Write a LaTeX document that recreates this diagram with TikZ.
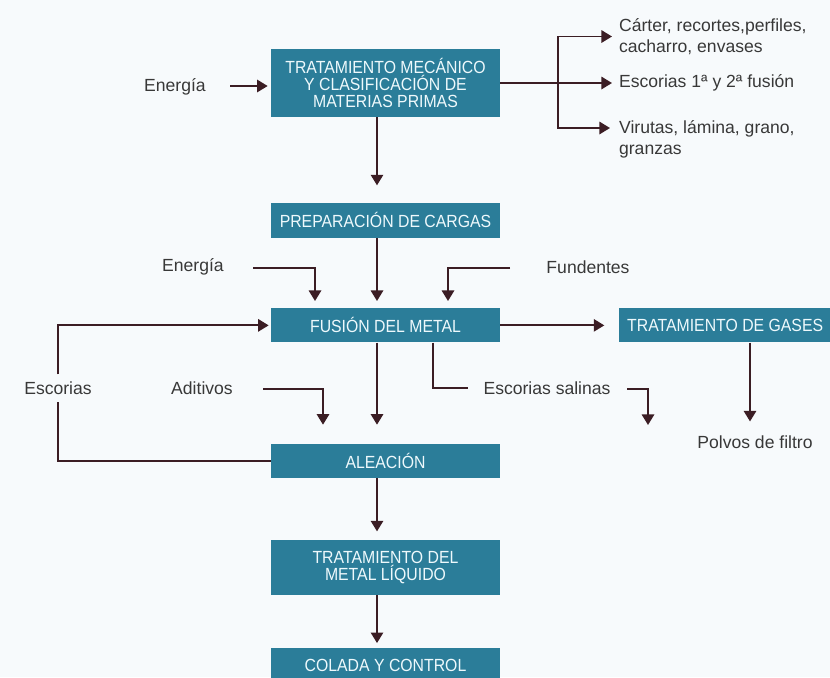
\documentclass[tikz,border=0pt]{standalone}
\usepackage{fontspec}
\setmainfont{Liberation Sans}
\newfontfamily\boxfont[FakeStretch=0.9]{Liberation Sans}
\usetikzlibrary{positioning,calc,arrows.meta}
\definecolor{boxteal}{HTML}{2B7D99}
\definecolor{boxtext}{HTML}{EEF9FC}
\definecolor{arrowred}{HTML}{3B1D24}
\definecolor{labeltext}{HTML}{383838}
\definecolor{paper}{HTML}{F7FAFC}

\begin{document}
\begin{tikzpicture}[x=0.02cm, y=-0.02cm,
		procbox/.style={rectangle, fill=boxteal, text=boxtext, font=\boxfont\fontsize{10}{9.8}\selectfont, align=center, minimum width=4.58cm, minimum height=0.68cm, inner sep=0pt},
		label/.style={rectangle, text=labeltext, font=\fontsize{10}{12}\selectfont, align=left, inner sep=1pt},
		line/.style={draw=arrowred, line width=1.1pt},
		flow/.style={line, -{Triangle[width=7pt,length=6pt]}}
	]
	\fill[paper] (0,0) rectangle (830,677);
	\useasboundingbox (0,0) rectangle (830,677);
	% main column
	\node[procbox, minimum height=1.36cm] (mecanico) at (385.5,83) {TRATAMIENTO MECÁNICO\\Y CLASIFICACIÓN DE\\MATERIAS PRIMAS};
	\node[procbox, minimum height=0.7cm] (cargas) [below=1.7cm of mecanico] {PREPARACIÓN DE CARGAS};
	\node[procbox] (fusion) [below=1.4cm of cargas] {FUSIÓN DEL METAL};
	\node[procbox] (aleacion) [below=2.02cm of fusion] {ALEACIÓN};
	\node[procbox, minimum height=1.1cm] (liquido) [below=1.22cm of aleacion] {TRATAMIENTO DEL\\METAL LÍQUIDO};
	\node[procbox] (colada) [below=1.06cm of liquido] {COLADA Y CONTROL};
	\node[procbox, minimum width=4.26cm] (gases) [right=2.36cm of fusion] {TRATAMIENTO DE GASES};
	% texts
	\node[label] (energiaA) at (175,87) {Energía};
	\node[label, anchor=west] (carter) at (617,36.5) {Cárter, recortes,perfiles,\\cacharro, envases};
	\node[label, anchor=west] (escoriasF) at (617,83) {Escorias 1ª y 2ª fusión};
	\node[label, anchor=west] (virutas) at (617,139.5) {Virutas, lámina, grano,\\granzas};
	\node[label] (energiaB) at (193,267) {Energía};
	\node[label] (fundentes) at (588,267) {Fundentes};
	\node[label] (escorias) at (58,388) {Escorias};
	\node[label] (aditivos) at (202,388) {Aditivos};
	\node[label] (salinas) at (547,388) {Escorias salinas};
	\node[label] (polvos) at (755,442) {Polvos de filtro};
	% free ends
	\coordinate (axis) at (377,0);
	\coordinate (split) at (558,83);
	\coordinate (virutasin) at (610,128);
	\coordinate (energiaAin) at (230,86);
	\coordinate (energiaBin) at (253,268);
	\coordinate (energiaBx) at (315,0);
	\coordinate (fundentesin) at (510,268);
	\coordinate (fundentesx) at (448,0);
	\coordinate (aditivosin) at (263,389);
	\coordinate (aditivosx) at (323,0);
	\coordinate (salinasx) at (433,0);
	\coordinate (salinasout) at (627,389);
	\coordinate (salinasend) at (648,425);
	\coordinate (polvosx) at (750,0);
	\begin{scope}[flow]
	\draw[shorten >=0.34cm] (mecanico.south -| axis) -- (cargas.north -| axis);
	\draw[shorten >=0.14cm] (cargas.south -| axis) -- (fusion.north -| axis);
	\draw[shorten >=0.38cm] (fusion.south -| axis) -- (aleacion.north -| axis);
	\draw[shorten >=0.16cm] (aleacion.south -| axis) -- (liquido.north -| axis);
	\draw[shorten >=0.1cm] (liquido.south -| axis) -- (colada.north -| axis);
	\draw[shorten >=0.06cm] (energiaAin) -- (mecanico.west |- energiaAin);
	\draw[shorten >=0.1cm] (mecanico.east) -- (escoriasF.west);
	\draw[shorten >=0.1cm] (split) |- (carter.west);
	\draw (split) |- (virutasin);
	\draw[shorten >=0.14cm] (energiaBin) -| (fusion.north -| energiaBx);
	\draw[shorten >=0.14cm] (fundentesin) -| (fusion.north -| fundentesx);
	\draw[shorten >=0.38cm] (aditivosin) -| (aleacion.north -| aditivosx);
	\draw[shorten >=0.28cm] (fusion.east) -- (gases.west);
	\draw[shorten >=0.24cm] (gases.south -| polvosx) -- (polvos.north -| polvosx);
	\draw (salinasout) -| (salinasend);
	\draw[shorten <=0.1cm, shorten >=0.04cm] (escorias.north) |- (fusion.west);
	\end{scope}
	\draw[line, shorten >=0.1cm] (aleacion.west) -| (escorias.south);
	\draw[line, shorten >=0.26cm] (fusion.south -| salinasx) |- (salinas.west);
\end{tikzpicture}
\end{document}
